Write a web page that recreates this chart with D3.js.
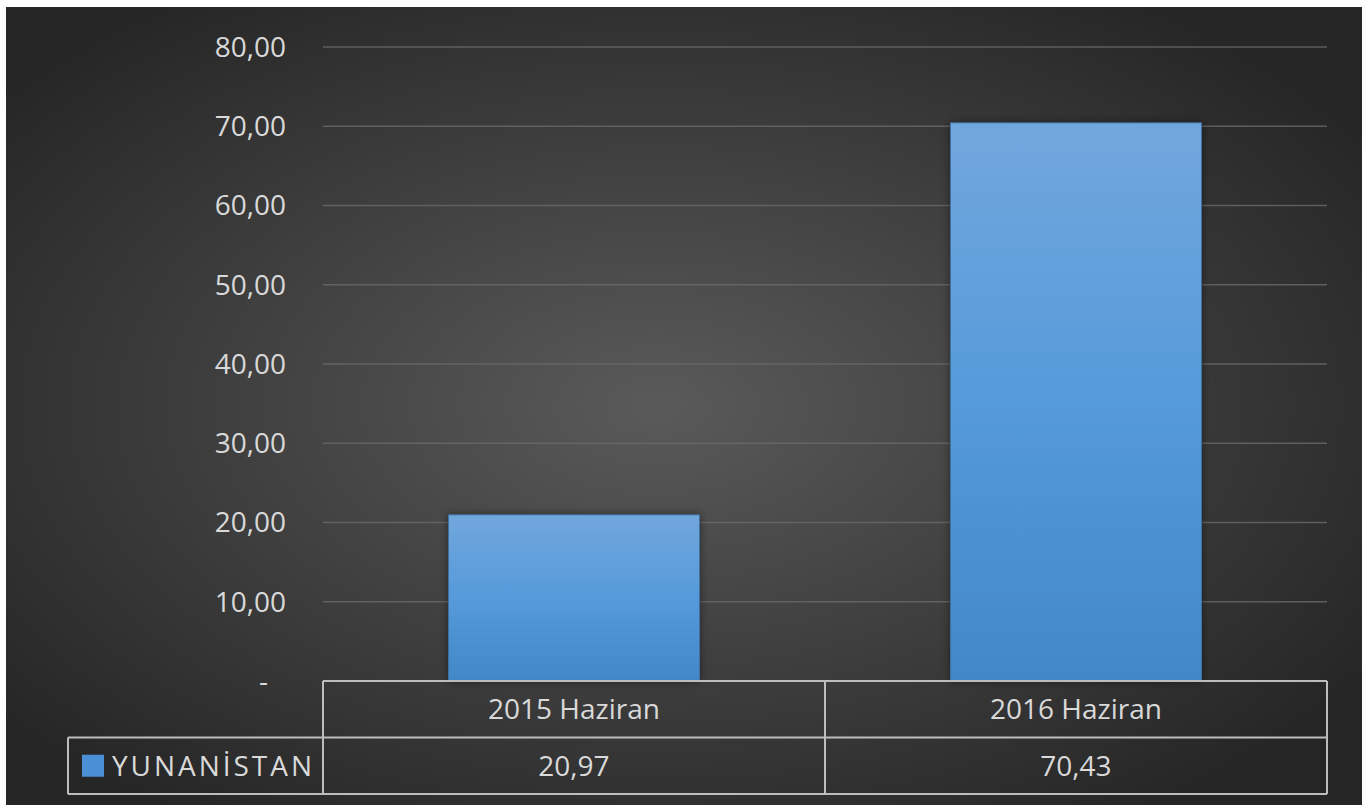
<!DOCTYPE html>
<html>
<head>
<meta charset="utf-8">
<script src="https://cdn.jsdelivr.net/npm/d3@7"></script>
<style>
  html, body { margin: 0; padding: 0; background: #fff; }
  svg { display: block; }
  text { font-family: "Open Sans", "Noto Sans", sans-serif; fill: #d9d9d9; }
</style>
</head>
<body>
<svg id="chart" width="1365" height="805"></svg>
<script>
(function () {
  'use strict';

  // chart values
  const categories = ['2015 Haziran', '2016 Haziran'];
  const seriesName = 'YUNANİSTAN';
  const values = [20.97, 70.43];
  const yTicks = [0, 10, 20, 30, 40, 50, 60, 70, 80];

  const svg = d3.select('#chart');
  const defs = svg.append('defs');

  // dark radial background like the excel theme
  const bg = defs.append('radialGradient').attr('id', 'bg')
    .attr('cx', '48%').attr('cy', '50%').attr('r', '62%');
  bg.append('stop').attr('offset', '0%').attr('stop-color', '#5a5a5a');
  bg.append('stop').attr('offset', '100%').attr('stop-color', '#262626');

  const barGrad = defs.append('linearGradient').attr('id', 'barGrad')
    .attr('x1', 0).attr('y1', 0).attr('x2', 0).attr('y2', 1);
  barGrad.append('stop').attr('offset', '0%').attr('stop-color', '#72a7dd');
  barGrad.append('stop').attr('offset', '50%').attr('stop-color', '#559ada');
  barGrad.append('stop').attr('offset', '100%').attr('stop-color', '#4288c8');

  const shadow = defs.append('filter').attr('id', 'shadow')
    .attr('x', '-10%').attr('y', '-10%').attr('width', '120%').attr('height', '120%');
  shadow.append('feDropShadow').attr('dx', 0).attr('dy', 0)
    .attr('stdDeviation', 4).attr('flood-color', '#000').attr('flood-opacity', 0.45);

  svg.append('rect').attr('x', 6).attr('y', 7).attr('width', 1356).attr('height', 798)
    .attr('fill', 'url(#bg)');

  const left = 323, right = 1327, top = 47, base = 681;
  const rowH = 56.5;

  const x = d3.scaleBand().domain(categories).range([left, right]).padding(0);
  const y = d3.scaleLinear().domain([0, 80]).range([base, top]);

  const fmt = d3.formatLocale({ decimal: ',', thousands: '.', grouping: [3], currency: ['', ''] })
    .format(',.2f');

  // gridlines
  svg.append('g').selectAll('line').data(yTicks.filter(d => d > 0))
    .enter().append('line')
    .attr('x1', left).attr('x2', right)
    .attr('y1', d => y(d)).attr('y2', d => y(d))
    .attr('stroke', '#6a6a6a').attr('stroke-width', 1.5).attr('opacity', 0.8);

  // y axis labels
  svg.append('g').selectAll('text').data(yTicks)
    .enter().append('text')
    .attr('x', d => d === 0 ? 268 : 286)
    .attr('y', d => y(d))
    .attr('dy', '0.35em')
    .attr('text-anchor', 'end')
    .style('font-size', '28px')
    .text(d => d === 0 ? '-' : fmt(d));

  // bars
  const bw = x.bandwidth();
  svg.append('g').selectAll('rect').data(values)
    .enter().append('rect')
    .attr('x', (d, i) => x(categories[i]) + bw * 0.25)
    .attr('width', bw * 0.5)
    .attr('y', d => y(d))
    .attr('height', d => y(0) - y(d))
    .attr('fill', 'url(#barGrad)')
    .attr('stroke', '#3f6f9f').attr('stroke-width', 1)
    .attr('filter', 'url(#shadow)');

  // data table
  const line = '#bdbdbd';
  const table = svg.append('g').attr('stroke', line).attr('stroke-width', 2).attr('fill', 'none');
  const legLeft = 68;
  table.append('line').attr('x1', left).attr('x2', right).attr('y1', base).attr('y2', base);
  table.append('line').attr('x1', legLeft).attr('x2', right).attr('y1', base + rowH).attr('y2', base + rowH);
  table.append('line').attr('x1', legLeft).attr('x2', right).attr('y1', base + 2 * rowH).attr('y2', base + 2 * rowH);
  table.append('line').attr('x1', legLeft).attr('x2', legLeft).attr('y1', base + rowH).attr('y2', base + 2 * rowH);
  [left].concat(categories.map(c => x(c) + bw)).forEach(xx => {
    table.append('line').attr('x1', xx).attr('x2', xx).attr('y1', base).attr('y2', base + 2 * rowH);
  });

  svg.append('g').selectAll('text.cat').data(categories)
    .enter().append('text').attr('class', 'cat')
    .attr('x', d => x(d) + bw / 2)
    .attr('y', base + rowH / 2)
    .attr('dy', '0.35em')
    .attr('text-anchor', 'middle')
    .style('font-size', '28px')
    .text(d => d);

  svg.append('g').selectAll('text.val').data(values)
    .enter().append('text').attr('class', 'val')
    .attr('x', (d, i) => x(categories[i]) + bw / 2)
    .attr('y', base + rowH * 1.5)
    .attr('dy', '0.35em')
    .attr('text-anchor', 'middle')
    .style('font-size', '28px')
    .text(d => fmt(d));

  // legend key
  svg.append('rect').attr('x', 82).attr('y', base + rowH * 1.5 - 11)
    .attr('width', 22).attr('height', 22).attr('fill', '#4a90d6');
  svg.append('text')
    .attr('x', 112).attr('y', base + rowH * 1.5)
    .attr('dy', '0.35em')
    .style('font-size', '28px')
    .attr('textLength', 200)
    .text(seriesName);
}());
</script>
</body>
</html>
